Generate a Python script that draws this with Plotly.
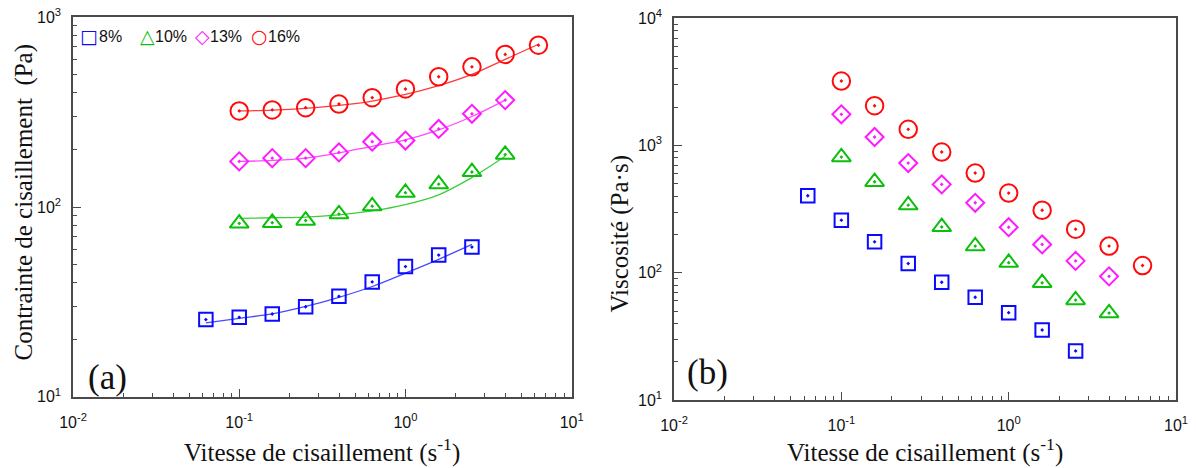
import plotly.graph_objects as go
from plotly.subplots import make_subplots

# ---- data ----
rate = [0.063, 0.1, 0.158, 0.251, 0.398, 0.631, 1.0, 1.585, 2.512, 3.981, 6.31]

labels = ["8%", "10%", "13%", "16%"]
legend_glyphs = ["□", "△", "◇", "○"]
colors = ["#0a0aff", "#0cbf0c", "#ff1aff", "#ff0a0a"]
line_colors = ["#4a4aff", "#3ccf3c", "#ff4aff", "#ff3a3a"]

# shear rate range of each series
rate_8 = rate[0:9]
rate_10 = rate[1:10]
rate_13 = rate[1:10]
rate_16 = rate[1:11]

# (a) shear stress (Pa)
stress_8 = [25.5, 26.2, 27.3, 29.8, 33.8, 40.3, 48.5, 55.8, 61.5]
stress_10 = [81.9, 82.6, 84.9, 91.8, 101, 119, 132, 153, 189]
stress_13 = [174, 181, 181, 194, 221, 224, 258, 310, 366]
stress_16 = [321, 325, 334, 349, 377, 419, 486, 548, 637, 713]

# (a) fitted curves (Pa)
fit_8 = [24.5, 25.9, 27.3, 29.9, 33.4, 38.1, 44.8, 53.0, 63.5]
fit_10 = [87.1, 87.8, 88.5, 91.0, 95.5, 103, 116, 143, 185]
fit_13 = [174, 176, 181, 193, 209, 226, 255, 300, 366]
fit_16 = [321, 324, 331, 343, 362, 392, 436, 500, 600, 721]

# (b) viscosity (Pa.s)
visc_8 = [403, 259, 175, 118, 84.2, 64.2, 48.6, 35.5, 24.3]
visc_10 = [812, 519, 340, 229, 162, 120, 83.4, 61.0, 48.2]
visc_13 = [1759, 1167, 728, 495, 355, 228, 167, 124, 93.7]
visc_16 = [3214, 2056, 1341, 889, 608, 423, 310, 220, 162, 114]

symbols = ["square-open-dot", "triangle-up-open-dot", "diamond-open-dot", "circle-open-dot"]
sizes = [13.5, 16.5, 13.8, 17.5]

x_tickvals = [0.01, 0.1, 1, 10]
x_ticktext = ["10<sup>-2</sup>", "10<sup>-1</sup>", "10<sup>0</sup>", "10<sup>1</sup>"]
ya_tickvals = [10, 100, 1000]
ya_ticktext = ["10<sup>1</sup>", "10<sup>2</sup>", "10<sup>3</sup>"]
yb_tickvals = [10, 100, 1000, 10000]
yb_ticktext = ["10<sup>1</sup>", "10<sup>2</sup>", "10<sup>3</sup>", "10<sup>4</sup>"]

def minor_vals(lo, hi):
    out = []
    for e in range(lo, hi):
        for m in range(2, 10):
            out.append(m * 10 ** e)
    return out

series_rate = [rate_8, rate_10, rate_13, rate_16]
series_stress = [stress_8, stress_10, stress_13, stress_16]
series_fit = [fit_8, fit_10, fit_13, fit_16]
series_visc = [visc_8, visc_10, visc_13, visc_16]

fig = make_subplots(rows=1, cols=2)

for i in range(4):
    fig.add_trace(go.Scatter(
        x=series_rate[i], y=series_fit[i], mode="lines", name=labels[i] + " fit",
        line=dict(color=line_colors[i], width=1.3, shape="spline", smoothing=1.0),
        showlegend=False, hoverinfo="skip"), row=1, col=1)
for i in range(4):
    fig.add_trace(go.Scatter(
        x=series_rate[i], y=series_stress[i], mode="markers", name=labels[i],
        showlegend=False,
        marker=dict(symbol=symbols[i], size=sizes[i], color=colors[i],
                    line=dict(color=colors[i], width=2))), row=1, col=1)
    fig.add_trace(go.Scatter(
        x=series_rate[i], y=series_visc[i], mode="markers", name=labels[i],
        showlegend=False,
        marker=dict(symbol=symbols[i], size=sizes[i], color=colors[i],
                    line=dict(color=colors[i], width=2))), row=1, col=2)

TICK_FONT = dict(family="Liberation Sans, Arial", size=16, color="#111111")
axis_common = dict(
    type="log", showgrid=False, zeroline=False, showline=True, mirror=True,
    linecolor="#4a4a4a", linewidth=1.5, ticks="inside", ticklen=8, tickwidth=1,
    tickcolor="#4a4a4a", tickfont=TICK_FONT, automargin=False,
    ticklabeloverflow="allow",
)

fig.update_xaxes(**axis_common, range=[-2, 1], tickvals=x_tickvals, ticktext=x_ticktext,
                 ticklabelstandoff=10,
                 minor=dict(ticks="inside", ticklen=4, tickcolor="#4a4a4a", tickvals=minor_vals(-2, 1)))
fig.update_xaxes(domain=[0.0, 0.4521], row=1, col=1)
fig.update_xaxes(domain=[0.5449, 1.0], row=1, col=2)

fig.update_yaxes(**axis_common, ticklabelstandoff=7)
fig.update_yaxes(range=[1, 3], tickvals=ya_tickvals, ticktext=ya_ticktext,
                 minor=dict(ticks="inside", ticklen=4, tickcolor="#4a4a4a", tickvals=minor_vals(1, 3)),
                 domain=[0.0086, 0.9992], row=1, col=1)
fig.update_yaxes(range=[1, 4], tickvals=yb_tickvals, ticktext=yb_ticktext,
                 minor=dict(ticks="inside", ticklen=4, tickcolor="#4a4a4a", tickvals=minor_vals(1, 4)),
                 domain=[0.0, 0.9966], row=1, col=2)

SERIF = "Liberation Serif, Times New Roman"
title_font = dict(family=SERIF, size=25, color="#111111")
x_title = "Vitesse de cisaillement (s<sup>-1</sup>)"

# axis titles (paper coords; plot area is 1103 x 383 px)
fig.add_annotation(text=x_title, xref="paper", yref="paper", x=0.2257, y=-0.131,
                   xanchor="center", yanchor="middle", showarrow=False, font=title_font)
fig.add_annotation(text=x_title, xref="paper", yref="paper", x=0.7724, y=-0.131,
                   xanchor="center", yanchor="middle", showarrow=False, font=title_font)
fig.add_annotation(text="Contrainte de cisaillement  (Pa)", xref="paper", yref="paper",
                   x=-0.0445, y=0.518, xanchor="center", yanchor="middle", textangle=-90,
                   showarrow=False, font=title_font)
fig.add_annotation(text="Viscosité (Pa·s)", xref="paper", yref="paper",
                   x=0.4955, y=0.4334, xanchor="center", yanchor="middle", textangle=-90,
                   showarrow=False, font=title_font)

fig.add_annotation(text="(a)", xref="paper", yref="paper", x=0.0313, y=0.060,
                   xanchor="center", yanchor="middle", showarrow=False,
                   font=dict(family=SERIF, size=35, color="#111111"))
fig.add_annotation(text="(b)", xref="paper", yref="paper", x=0.5757, y=0.073,
                   xanchor="center", yanchor="middle", showarrow=False,
                   font=dict(family=SERIF, size=35, color="#111111"))

# legend of panel (a): symbol glyph + label, at the top left of the frame
legend_glyph_x = [0.0145, 0.0671, 0.1170, 0.1695]
legend_text_x = [0.0218, 0.0725, 0.1224, 0.1750]
for i in range(4):
    fig.add_annotation(
        text=legend_glyphs[i], xref="paper", yref="paper", x=legend_glyph_x[i], y=0.950,
        xanchor="center", yanchor="middle", showarrow=False,
        font=dict(family="DejaVu Sans", size=19, color=colors[i]))
    fig.add_annotation(
        text=labels[i], xref="paper", yref="paper", x=legend_text_x[i], y=0.950,
        xanchor="left", yanchor="middle", showarrow=False,
        font=dict(family="Liberation Sans, Arial", size=16, color="#111111"))

# the page body adds an 8 px offset, so the figure is 8 px smaller and margins shifted
fig.update_layout(
    width=1188, height=460,
    margin=dict(l=65, r=20, t=9, b=68),
    paper_bgcolor="white", plot_bgcolor="white",
    showlegend=False,
)

fig.write_html("out.html")
